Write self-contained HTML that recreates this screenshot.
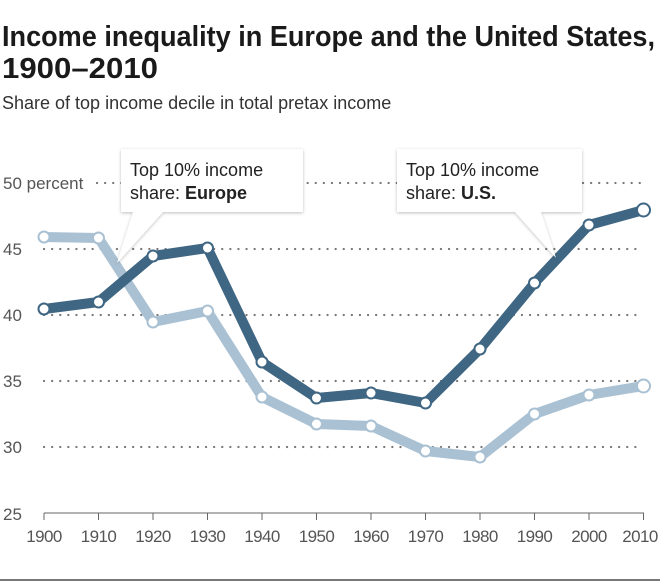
<!DOCTYPE html>
<html><head><meta charset="utf-8"><style>
body{margin:0;background:#fff;width:660px;height:581px;overflow:hidden;font-family:"Liberation Sans",sans-serif}
</style></head><body>
<svg width="660" height="581" xmlns="http://www.w3.org/2000/svg" font-family="Liberation Sans, sans-serif">
<text x="2" y="46" font-weight="bold" font-size="29" fill="#1a1a1a" textLength="653" lengthAdjust="spacingAndGlyphs">Income inequality in Europe and the United States,</text>
<text x="2" y="78" font-weight="bold" font-size="29" fill="#1a1a1a" textLength="156" lengthAdjust="spacingAndGlyphs">1900–2010</text>
<text x="2" y="109" font-size="18" fill="#333">Share of top income decile in total pretax income</text>
<g stroke="#777" stroke-width="2.2" stroke-dasharray="0.1,8" stroke-linecap="round">
<line x1="97" y1="183" x2="643" y2="183"/>
<line x1="44" y1="249" x2="643" y2="249"/>
<line x1="44" y1="315" x2="643" y2="315"/>
<line x1="44" y1="381" x2="643" y2="381"/>
<line x1="44" y1="447" x2="643" y2="447"/>
</g>
<g font-size="17" fill="#555">
<text x="3" y="189">50 percent</text>
<text x="3" y="255">45</text>
<text x="3" y="321">40</text>
<text x="3" y="387">35</text>
<text x="3" y="453">30</text>
<text x="3" y="520">25</text>
</g>
<line x1="44" y1="513" x2="644" y2="513" stroke="#666" stroke-width="1"/>
<g stroke="#666" stroke-width="1">
<line x1="44" y1="513" x2="44" y2="520"/><line x1="98.5" y1="513" x2="98.5" y2="520"/><line x1="153" y1="513" x2="153" y2="520"/><line x1="207.5" y1="513" x2="207.5" y2="520"/><line x1="262" y1="513" x2="262" y2="520"/><line x1="316.5" y1="513" x2="316.5" y2="520"/><line x1="371" y1="513" x2="371" y2="520"/><line x1="425.5" y1="513" x2="425.5" y2="520"/><line x1="480" y1="513" x2="480" y2="520"/><line x1="534.5" y1="513" x2="534.5" y2="520"/><line x1="589" y1="513" x2="589" y2="520"/><line x1="643.5" y1="513" x2="643.5" y2="520"/>
</g>
<g font-size="17" fill="#555" text-anchor="middle" letter-spacing="-0.6">
<text x="44" y="542">1900</text><text x="98.5" y="542">1910</text><text x="153" y="542">1920</text><text x="207.5" y="542">1930</text><text x="262" y="542">1940</text><text x="316.5" y="542">1950</text><text x="371" y="542">1960</text><text x="425.5" y="542">1970</text><text x="480" y="542">1980</text><text x="534.5" y="542">1990</text><text x="589" y="542">2000</text><text x="640" y="542">2010</text>
</g>
<line x1="0" y1="580" x2="660" y2="580" stroke="#777" stroke-width="2"/>
<g fill="none" stroke-width="10" stroke-linejoin="round">
<polyline stroke="#a9c1d3" points="44,237 98.5,238 153,322 207.5,311 262,397 316.5,424 371,426 425.5,451 480,457 534.5,414 589,395 643.5,386"/>
<polyline stroke="#3f6683" points="44,309 98.5,302 153,256 207.5,248 262,362 316.5,398 371,393 425.5,403 480,349 534.5,283 589,225 643.5,210"/>
</g>
<g fill="#fff" stroke-width="2">
<g stroke="#a9c1d3">
<circle cx="44" cy="237" r="5.5"/><circle cx="98.5" cy="238" r="5.5"/><circle cx="153" cy="322" r="5.5"/><circle cx="207.5" cy="311" r="5.5"/><circle cx="262" cy="397" r="5.5"/><circle cx="316.5" cy="424" r="5.5"/><circle cx="371" cy="426" r="5.5"/><circle cx="425.5" cy="451" r="5.5"/><circle cx="480" cy="457" r="5.5"/><circle cx="534.5" cy="414" r="5.5"/><circle cx="589" cy="395" r="5.5"/><circle cx="643.5" cy="386" r="6.5"/>
</g>
<g stroke="#3f6683">
<circle cx="44" cy="309" r="5.5"/><circle cx="98.5" cy="302" r="5.5"/><circle cx="153" cy="256" r="5.5"/><circle cx="207.5" cy="248" r="5.5"/><circle cx="262" cy="362" r="5.5"/><circle cx="316.5" cy="398" r="5.5"/><circle cx="371" cy="393" r="5.5"/><circle cx="425.5" cy="403" r="5.5"/><circle cx="480" cy="349" r="5.5"/><circle cx="534.5" cy="283" r="5.5"/><circle cx="589" cy="225" r="5.5"/><circle cx="643.5" cy="210" r="6.5"/>
</g>
</g>
<defs><filter id="sh" x="-10%" y="-10%" width="120%" height="130%"><feDropShadow dx="0" dy="1" stdDeviation="1.5" flood-color="#000" flood-opacity="0.25"/></filter></defs>
<path d="M121,149 H303 V212 H163 L117,263 L133,212 H121 Z" fill="#fff" filter="url(#sh)"/>
<path d="M397,149 H582 V212 H541 L556,258 L515,212 H397 Z" fill="#fff" filter="url(#sh)"/>
<g font-size="18" fill="#222">
<text x="130" y="176">Top 10% income</text>
<text x="130" y="199">share: <tspan font-weight="bold">Europe</tspan></text>
<text x="406" y="176">Top 10% income</text>
<text x="406" y="199">share: <tspan font-weight="bold">U.S.</tspan></text>
</g>
</svg>
</body></html>
